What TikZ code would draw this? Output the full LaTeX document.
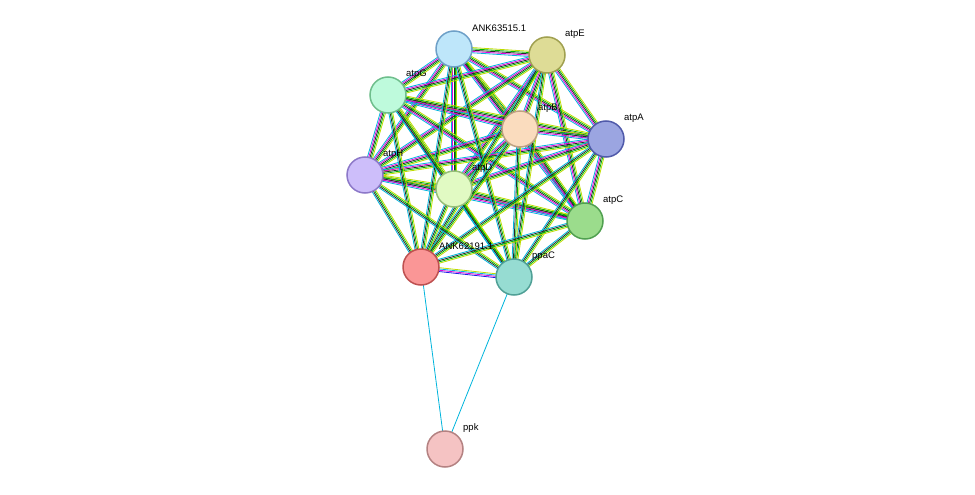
\documentclass[tikz,border=0pt]{standalone}
\usepackage{fontspec}
\setmainfont{Liberation Sans}
\usetikzlibrary{calc}
\definecolor{cnb}{RGB}{0,180,0}
\definecolor{ctm}{RGB}{190,220,0}
\definecolor{cex}{RGB}{220,0,220}
\definecolor{cdb}{RGB}{0,180,220}
\definecolor{cco}{RGB}{40,40,40}
\definecolor{cbl}{RGB}{30,30,230}
\tikzset{x=1pt,y=-1pt,
 prot/.style={circle,draw,line width=1.5pt,minimum size=36pt,inner sep=0pt},
 lab/.style={anchor=west,font=\fontsize{9.5}{11}\selectfont,inner sep=0pt},
 ed/.style={line width=0.8pt}}
\newcommand\bund[3]{%
 \foreach \cc [count=\k] in {#3}{%
  \pgfmathsetmacro\oo{(\k-3)*1.3}%
  \draw[ed,\cc] ($(#1)!\oo pt!90:(#2)$) -- ($(#2)!\oo pt!-90:(#1)$);}}
\begin{document}
\begin{tikzpicture}
\useasboundingbox (0,0) rectangle (975,495);
\coordinate (a63) at (454,49);
\coordinate (atpE) at (547,55);
\coordinate (atpG) at (388,95);
\coordinate (atpB) at (520,129);
\coordinate (atpA) at (606,139);
\coordinate (atpH) at (365,175);
\coordinate (atpD) at (454,189);
\coordinate (atpC) at (585,221);
\coordinate (a62) at (421,267);
\coordinate (ppaC) at (514,277);
\coordinate (ppk) at (445,449);
\foreach \a [count=\i] in {a63,atpE,atpG,atpB,atpA,atpH,atpD,atpC}{
 \foreach \b [count=\j] in {a63,atpE,atpG,atpB,atpA,atpH,atpD,atpC}{
  \ifnum\j>\i \bund{\a}{\b}{cdb,cex,cco,cnb,ctm}\fi}}
\foreach \a in {a63,atpE,atpG,atpB,atpA,atpH,atpD,atpC}{
 \bund{\a}{a62}{cdb,cco,cnb,ctm}
 \bund{\a}{ppaC}{cdb,cco,cnb,ctm}}
\bund{a62}{ppaC}{cbl,cex,cdb,ctm}
\draw[ed,cdb] (a62) -- (ppk);
\draw[ed,cdb] (ppaC) -- (ppk);
\node[prot,fill={rgb,255:red,190;green,230;blue,250},draw={rgb,255:red,110;green,160;blue,200}] (n1) at (a63) {};
\node[prot,fill={rgb,255:red,222;green,220;blue,150},draw={rgb,255:red,160;green,160;blue,80}] (n2) at (atpE) {};
\node[prot,fill={rgb,255:red,190;green,250;blue,220},draw={rgb,255:red,110;green,190;blue,140}] (n3) at (atpG) {};
\node[prot,fill={rgb,255:red,250;green,220;blue,190},draw={rgb,255:red,190;green,160;blue,130}] (n4) at (atpB) {};
\node[prot,fill={rgb,255:red,155;green,165;blue,225},draw={rgb,255:red,80;green,90;blue,170}] (n5) at (atpA) {};
\node[prot,fill={rgb,255:red,205;green,190;blue,250},draw={rgb,255:red,140;green,120;blue,200}] (n6) at (atpH) {};
\node[prot,fill={rgb,255:red,225;green,250;blue,195},draw={rgb,255:red,150;green,190;blue,120}] (n7) at (atpD) {};
\node[prot,fill={rgb,255:red,155;green,220;blue,140},draw={rgb,255:red,80;green,160;blue,80}] (n8) at (atpC) {};
\node[prot,fill={rgb,255:red,250;green,150;blue,150},draw={rgb,255:red,190;green,80;blue,80}] (n9) at (a62) {};
\node[prot,fill={rgb,255:red,150;green,220;blue,210},draw={rgb,255:red,80;green,160;blue,150}] (n10) at (ppaC) {};
\node[prot,fill={rgb,255:red,245;green,195;blue,195},draw={rgb,255:red,180;green,130;blue,130}] (n11) at (ppk) {};
\node[lab] (l1) at ($(a63)+(18,-21)$) {ANK63515.1};
\node[lab] (l2) at ($(atpE)+(18,-21)$) {atpE};
\node[lab] (l3) at ($(atpG)+(18,-21)$) {atpG};
\node[lab] (l4) at ($(atpB)+(18,-21)$) {atpB};
\node[lab] (l5) at ($(atpA)+(18,-21)$) {atpA};
\node[lab] (l6) at ($(atpH)+(18,-21)$) {atpH};
\node[lab] (l7) at ($(atpD)+(18,-21)$) {atpD};
\node[lab] (l8) at ($(atpC)+(18,-21)$) {atpC};
\node[lab] (l9) at ($(a62)+(18,-21)$) {ANK62191.1};
\node[lab] (l10) at ($(ppaC)+(18,-21)$) {ppaC};
\node[lab] (l11) at ($(ppk)+(18,-21)$) {ppk};
\end{tikzpicture}
\end{document}
